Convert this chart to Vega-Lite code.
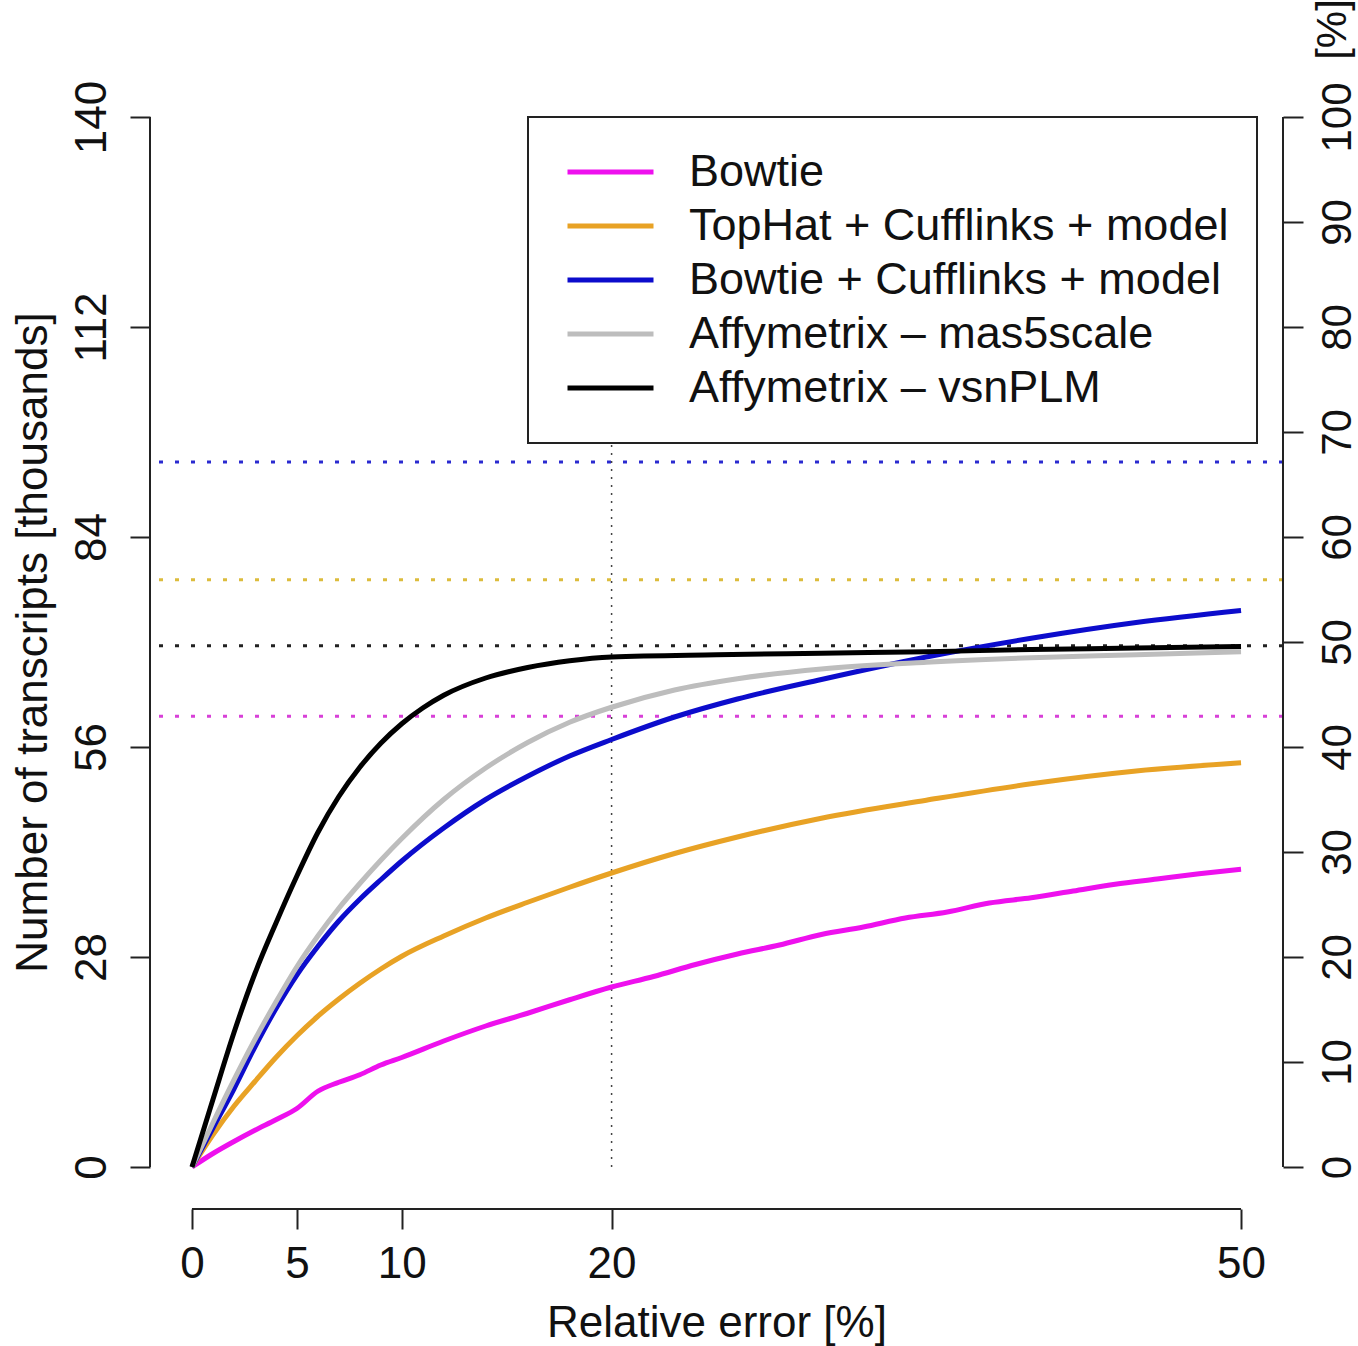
{
  "$schema": "https://vega.github.io/schema/vega-lite/v6.json",
  "width": 1133,
  "height": 1134,
  "autosize": {"type": "none"},
  "padding": {"left": 150, "top": 75, "right": 75, "bottom": 137},
  "background": "white",
  "config": {
    "font": "Liberation Sans",
    "view": {"stroke": null},
    "axis": {"grid": false, "domain": false, "tickSize": 20, "tickWidth": 2, "tickColor": "#222", "labelFont": "Liberation Sans", "labelFontSize": 44, "labelColor": "#111", "titleFont": "Liberation Sans", "titleFontSize": 44, "titleFontWeight": "normal", "titleColor": "#111", "labelFlush": false, "labelOverlap": false, "labelBound": false},
    "axisBottom": {"labelBaseline": "top", "labelPadding": 13, "titleBaseline": "alphabetic", "titleY": 127},
    "axisLeft": {"labelAngle": -90, "labelAlign": "center", "labelBaseline": "bottom", "labelPadding": 16, "titleAngle": -90, "titleAlign": "center", "titleBaseline": "alphabetic", "titleX": -104, "titleY": 567},
    "axisRight": {"labelAngle": -90, "labelAlign": "center", "labelBaseline": "top", "labelPadding": 14, "labelFontSize": 42, "titleAngle": -90, "titleAlign": "center", "titleBaseline": "alphabetic", "titleFontSize": 42, "titleX": 62, "titleY": -46},
    "legend": {"strokeWidth": 2}
  },
  "datasets": {
    "curves": [
      {"method": "Bowtie", "err": 0, "n": 0},
      {"method": "Bowtie", "err": 1, "n": 1.8},
      {"method": "Bowtie", "err": 2, "n": 3.4},
      {"method": "Bowtie", "err": 3, "n": 4.9},
      {"method": "Bowtie", "err": 4, "n": 6.3},
      {"method": "Bowtie", "err": 5, "n": 7.8},
      {"method": "Bowtie", "err": 6, "n": 10.1},
      {"method": "Bowtie", "err": 7, "n": 11.3},
      {"method": "Bowtie", "err": 8, "n": 12.3},
      {"method": "Bowtie", "err": 9, "n": 13.6},
      {"method": "Bowtie", "err": 10, "n": 14.6},
      {"method": "Bowtie", "err": 12, "n": 16.8},
      {"method": "Bowtie", "err": 14, "n": 18.8},
      {"method": "Bowtie", "err": 16, "n": 20.5},
      {"method": "Bowtie", "err": 18, "n": 22.3},
      {"method": "Bowtie", "err": 20, "n": 24.0},
      {"method": "Bowtie", "err": 22, "n": 25.4},
      {"method": "Bowtie", "err": 24, "n": 27.0},
      {"method": "Bowtie", "err": 26, "n": 28.4},
      {"method": "Bowtie", "err": 28, "n": 29.6},
      {"method": "Bowtie", "err": 30, "n": 31.0},
      {"method": "Bowtie", "err": 32, "n": 32.0},
      {"method": "Bowtie", "err": 34, "n": 33.2},
      {"method": "Bowtie", "err": 36, "n": 34.0},
      {"method": "Bowtie", "err": 38, "n": 35.2},
      {"method": "Bowtie", "err": 40, "n": 35.9},
      {"method": "Bowtie", "err": 42, "n": 36.8},
      {"method": "Bowtie", "err": 44, "n": 37.7},
      {"method": "Bowtie", "err": 46, "n": 38.4},
      {"method": "Bowtie", "err": 48, "n": 39.1},
      {"method": "Bowtie", "err": 50, "n": 39.7},
      {"method": "TopHat + Cufflinks + model", "err": 0, "n": 0},
      {"method": "TopHat + Cufflinks + model", "err": 1, "n": 4.3},
      {"method": "TopHat + Cufflinks + model", "err": 2, "n": 8.1},
      {"method": "TopHat + Cufflinks + model", "err": 3, "n": 11.4},
      {"method": "TopHat + Cufflinks + model", "err": 4, "n": 14.6},
      {"method": "TopHat + Cufflinks + model", "err": 5, "n": 17.5},
      {"method": "TopHat + Cufflinks + model", "err": 6, "n": 20.1},
      {"method": "TopHat + Cufflinks + model", "err": 7, "n": 22.4},
      {"method": "TopHat + Cufflinks + model", "err": 8, "n": 24.5},
      {"method": "TopHat + Cufflinks + model", "err": 9, "n": 26.4},
      {"method": "TopHat + Cufflinks + model", "err": 10, "n": 28.1},
      {"method": "TopHat + Cufflinks + model", "err": 12, "n": 30.8},
      {"method": "TopHat + Cufflinks + model", "err": 14, "n": 33.2},
      {"method": "TopHat + Cufflinks + model", "err": 16, "n": 35.3},
      {"method": "TopHat + Cufflinks + model", "err": 18, "n": 37.3},
      {"method": "TopHat + Cufflinks + model", "err": 20, "n": 39.2},
      {"method": "TopHat + Cufflinks + model", "err": 23, "n": 41.8},
      {"method": "TopHat + Cufflinks + model", "err": 26, "n": 44.0},
      {"method": "TopHat + Cufflinks + model", "err": 30, "n": 46.5},
      {"method": "TopHat + Cufflinks + model", "err": 35, "n": 48.9},
      {"method": "TopHat + Cufflinks + model", "err": 40, "n": 51.1},
      {"method": "TopHat + Cufflinks + model", "err": 45, "n": 52.8},
      {"method": "TopHat + Cufflinks + model", "err": 50, "n": 53.9},
      {"method": "Bowtie + Cufflinks + model", "err": 0, "n": 0},
      {"method": "Bowtie + Cufflinks + model", "err": 1, "n": 5.2},
      {"method": "Bowtie + Cufflinks + model", "err": 2, "n": 10.4},
      {"method": "Bowtie + Cufflinks + model", "err": 3, "n": 16.0},
      {"method": "Bowtie + Cufflinks + model", "err": 4, "n": 21.1},
      {"method": "Bowtie + Cufflinks + model", "err": 5, "n": 25.6},
      {"method": "Bowtie + Cufflinks + model", "err": 6, "n": 29.4},
      {"method": "Bowtie + Cufflinks + model", "err": 7, "n": 32.8},
      {"method": "Bowtie + Cufflinks + model", "err": 8, "n": 35.7},
      {"method": "Bowtie + Cufflinks + model", "err": 9, "n": 38.3},
      {"method": "Bowtie + Cufflinks + model", "err": 10, "n": 40.8},
      {"method": "Bowtie + Cufflinks + model", "err": 12, "n": 45.2},
      {"method": "Bowtie + Cufflinks + model", "err": 14, "n": 49.0},
      {"method": "Bowtie + Cufflinks + model", "err": 16, "n": 52.1},
      {"method": "Bowtie + Cufflinks + model", "err": 18, "n": 54.8},
      {"method": "Bowtie + Cufflinks + model", "err": 20, "n": 57.0},
      {"method": "Bowtie + Cufflinks + model", "err": 23, "n": 60.0},
      {"method": "Bowtie + Cufflinks + model", "err": 26, "n": 62.4},
      {"method": "Bowtie + Cufflinks + model", "err": 30, "n": 65.0},
      {"method": "Bowtie + Cufflinks + model", "err": 35, "n": 68.0},
      {"method": "Bowtie + Cufflinks + model", "err": 40, "n": 70.5},
      {"method": "Bowtie + Cufflinks + model", "err": 45, "n": 72.6},
      {"method": "Bowtie + Cufflinks + model", "err": 50, "n": 74.2},
      {"method": "Affymetrix – mas5scale", "err": 0, "n": 0},
      {"method": "Affymetrix – mas5scale", "err": 1, "n": 5.9},
      {"method": "Affymetrix – mas5scale", "err": 2, "n": 11.6},
      {"method": "Affymetrix – mas5scale", "err": 3, "n": 17.0},
      {"method": "Affymetrix – mas5scale", "err": 4, "n": 22.0},
      {"method": "Affymetrix – mas5scale", "err": 5, "n": 26.7},
      {"method": "Affymetrix – mas5scale", "err": 6, "n": 30.8},
      {"method": "Affymetrix – mas5scale", "err": 7, "n": 34.5},
      {"method": "Affymetrix – mas5scale", "err": 8, "n": 37.8},
      {"method": "Affymetrix – mas5scale", "err": 9, "n": 40.9},
      {"method": "Affymetrix – mas5scale", "err": 10, "n": 43.8},
      {"method": "Affymetrix – mas5scale", "err": 12, "n": 49.0},
      {"method": "Affymetrix – mas5scale", "err": 14, "n": 53.2},
      {"method": "Affymetrix – mas5scale", "err": 16, "n": 56.6},
      {"method": "Affymetrix – mas5scale", "err": 18, "n": 59.3},
      {"method": "Affymetrix – mas5scale", "err": 20, "n": 61.3},
      {"method": "Affymetrix – mas5scale", "err": 23, "n": 63.6},
      {"method": "Affymetrix – mas5scale", "err": 26, "n": 65.1},
      {"method": "Affymetrix – mas5scale", "err": 30, "n": 66.4},
      {"method": "Affymetrix – mas5scale", "err": 35, "n": 67.3},
      {"method": "Affymetrix – mas5scale", "err": 40, "n": 67.9},
      {"method": "Affymetrix – mas5scale", "err": 45, "n": 68.3},
      {"method": "Affymetrix – mas5scale", "err": 50, "n": 68.7},
      {"method": "Affymetrix – vsnPLM", "err": 0, "n": 0},
      {"method": "Affymetrix – vsnPLM", "err": 1, "n": 9.0},
      {"method": "Affymetrix – vsnPLM", "err": 2, "n": 17.9},
      {"method": "Affymetrix – vsnPLM", "err": 3, "n": 25.8},
      {"method": "Affymetrix – vsnPLM", "err": 4, "n": 32.5},
      {"method": "Affymetrix – vsnPLM", "err": 5, "n": 38.8},
      {"method": "Affymetrix – vsnPLM", "err": 6, "n": 44.6},
      {"method": "Affymetrix – vsnPLM", "err": 7, "n": 49.4},
      {"method": "Affymetrix – vsnPLM", "err": 8, "n": 53.3},
      {"method": "Affymetrix – vsnPLM", "err": 9, "n": 56.5},
      {"method": "Affymetrix – vsnPLM", "err": 10, "n": 59.1},
      {"method": "Affymetrix – vsnPLM", "err": 11, "n": 61.2},
      {"method": "Affymetrix – vsnPLM", "err": 12, "n": 62.9},
      {"method": "Affymetrix – vsnPLM", "err": 14, "n": 65.2},
      {"method": "Affymetrix – vsnPLM", "err": 16, "n": 66.6},
      {"method": "Affymetrix – vsnPLM", "err": 18, "n": 67.5},
      {"method": "Affymetrix – vsnPLM", "err": 20, "n": 68.0},
      {"method": "Affymetrix – vsnPLM", "err": 25, "n": 68.3},
      {"method": "Affymetrix – vsnPLM", "err": 30, "n": 68.5},
      {"method": "Affymetrix – vsnPLM", "err": 35, "n": 68.7},
      {"method": "Affymetrix – vsnPLM", "err": 40, "n": 69.0},
      {"method": "Affymetrix – vsnPLM", "err": 45, "n": 69.2},
      {"method": "Affymetrix – vsnPLM", "err": 50, "n": 69.4}
    ],
    "levels": [
      {"method": "Bowtie + Cufflinks + model", "n": 94.0},
      {"method": "TopHat + Cufflinks + model", "n": 78.3},
      {"method": "Affymetrix – vsnPLM", "n": 69.5},
      {"method": "Bowtie", "n": 60.1}
    ]
  },
  "layer": [
    {
      "layer": [
        {
          "data": {"name": "levels"},
          "transform": [{"filter": "datum.method === 'Bowtie + Cufflinks + model'"}],
          "mark": {"type": "rule", "strokeDash": [4, 12], "strokeWidth": 3, "color": "#2a2ad0"},
          "encoding": {
            "y": {"field": "n", "type": "quantitative", "scale": {"domain": [-5.6, 145.6], "nice": false, "zero": false}, "axis": {"values": [0, 28, 56, 84, 112, 140], "title": "Number of transcripts [thousands]"}}
          }
        },
        {
          "data": {"name": "levels"},
          "transform": [{"filter": "datum.method === 'TopHat + Cufflinks + model'"}],
          "mark": {"type": "rule", "strokeDash": [4, 12], "strokeWidth": 3, "color": "#dcbc3c"},
          "encoding": {
            "y": {"field": "n", "type": "quantitative", "scale": {"domain": [-5.6, 145.6], "nice": false, "zero": false}, "axis": {"values": [0, 28, 56, 84, 112, 140], "title": "Number of transcripts [thousands]"}}
          }
        },
        {
          "data": {"name": "levels"},
          "transform": [{"filter": "datum.method === 'Affymetrix – vsnPLM'"}],
          "mark": {"type": "rule", "strokeDash": [4, 12], "strokeWidth": 3, "color": "#222222"},
          "encoding": {
            "y": {"field": "n", "type": "quantitative", "scale": {"domain": [-5.6, 145.6], "nice": false, "zero": false}, "axis": {"values": [0, 28, 56, 84, 112, 140], "title": "Number of transcripts [thousands]"}}
          }
        },
        {
          "data": {"name": "levels"},
          "transform": [{"filter": "datum.method === 'Bowtie'"}],
          "mark": {"type": "rule", "strokeDash": [4, 12], "strokeWidth": 3, "color": "#d840d8"},
          "encoding": {
            "y": {"field": "n", "type": "quantitative", "scale": {"domain": [-5.6, 145.6], "nice": false, "zero": false}, "axis": {"values": [0, 28, 56, 84, 112, 140], "title": "Number of transcripts [thousands]"}}
          }
        },
        {
          "data": {"values": [{}]},
          "mark": {"type": "rule", "strokeDash": [2, 6], "strokeWidth": 1.5, "color": "#444"},
          "encoding": {
            "x": {"datum": 20, "type": "quantitative", "scale": {"domain": [-2, 52], "nice": false, "zero": false}, "axis": {"values": [0, 5, 10, 20, 50], "title": "Relative error [%]"}},
            "y": {"datum": 0, "type": "quantitative", "scale": {"domain": [-5.6, 145.6], "nice": false, "zero": false}, "axis": {"values": [0, 28, 56, 84, 112, 140], "title": "Number of transcripts [thousands]"}},
            "y2": {"datum": 97}
          }
        },
        {
          "data": {"name": "curves"},
          "mark": {"type": "line", "strokeWidth": 5, "interpolate": "monotone"},
          "encoding": {
            "x": {"field": "err", "type": "quantitative", "scale": {"domain": [-2, 52], "nice": false, "zero": false}, "axis": {"values": [0, 5, 10, 20, 50], "title": "Relative error [%]"}},
            "y": {"field": "n", "type": "quantitative", "scale": {"domain": [-5.6, 145.6], "nice": false, "zero": false}, "axis": {"values": [0, 28, 56, 84, 112, 140], "title": "Number of transcripts [thousands]"}},
            "color": {
              "field": "method", "type": "nominal",
              "scale": {"domain": ["Bowtie", "TopHat + Cufflinks + model", "Bowtie + Cufflinks + model", "Affymetrix – mas5scale", "Affymetrix – vsnPLM"], "range": ["#ee10ee", "#e8a225", "#0c0ccc", "#bdbdbd", "#000000"]},
              "legend": {"orient": "none", "legendX": 378, "legendY": 42, "title": null, "symbolType": "stroke", "symbolSize": 7396, "symbolStrokeWidth": 5, "clipHeight": 54, "rowPadding": 0, "padding": 28, "symbolOffset": 9, "labelOffset": 33, "labelFontSize": 45, "labelFont": "Liberation Sans", "labelColor": "#111", "labelLimit": 1000, "strokeColor": "#222", "fillColor": "white"}
            }
          }
        },
        {
          "data": {"values": [{}]},
          "mark": {"type": "rule", "strokeWidth": 2, "color": "#222"},
          "encoding": {
            "x": {"datum": 0, "type": "quantitative", "scale": {"domain": [-2, 52], "nice": false, "zero": false}, "axis": {"values": [0, 5, 10, 20, 50], "title": "Relative error [%]"}},
            "x2": {"datum": 50},
            "y": {"datum": -5.6, "type": "quantitative", "scale": {"domain": [-5.6, 145.6], "nice": false, "zero": false}, "axis": {"values": [0, 28, 56, 84, 112, 140], "title": "Number of transcripts [thousands]"}}
          }
        },
        {
          "data": {"values": [{}]},
          "mark": {"type": "rule", "strokeWidth": 2, "color": "#222"},
          "encoding": {
            "x": {"datum": -2, "type": "quantitative", "scale": {"domain": [-2, 52], "nice": false, "zero": false}, "axis": {"values": [0, 5, 10, 20, 50], "title": "Relative error [%]"}},
            "y": {"datum": 0, "type": "quantitative", "scale": {"domain": [-5.6, 145.6], "nice": false, "zero": false}, "axis": {"values": [0, 28, 56, 84, 112, 140], "title": "Number of transcripts [thousands]"}},
            "y2": {"datum": 140}
          }
        }
      ]
    },
    {
      "data": {"values": [{}]},
      "mark": {"type": "rule", "strokeWidth": 2, "color": "#222"},
      "encoding": {
        "x": {"datum": 52, "type": "quantitative", "scale": {"domain": [-2, 52], "nice": false, "zero": false}, "axis": {"values": [0, 5, 10, 20, 50], "title": "Relative error [%]"}},
        "y": {"datum": 0, "type": "quantitative", "scale": {"domain": [-4, 104], "nice": false, "zero": false}, "axis": {"orient": "right", "values": [0, 10, 20, 30, 40, 50, 60, 70, 80, 90, 100], "title": "[%]"}},
        "y2": {"datum": 100}
      }
    }
  ],
  "resolve": {"scale": {"y": "independent"}}
}
